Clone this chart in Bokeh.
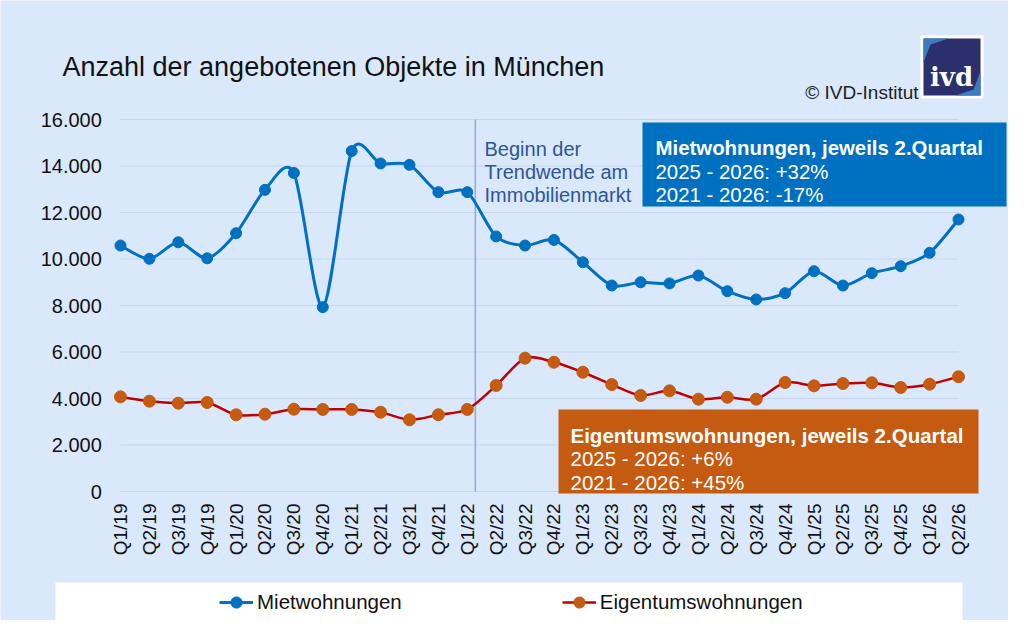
import math

from bokeh.embed import file_html
from bokeh.models import (BoxAnnotation, ColumnDataSource, Label, Legend,
                          LegendItem, PolyAnnotation)
from bokeh.plotting import figure
from bokeh.resources import INLINE

# Data
quarters = [
    "Q1/19", "Q2/19", "Q3/19", "Q4/19", "Q1/20", "Q2/20", "Q3/20", "Q4/20",
    "Q1/21", "Q2/21", "Q3/21", "Q4/21", "Q1/22", "Q2/22", "Q3/22", "Q4/22",
    "Q1/23", "Q2/23", "Q3/23", "Q4/23", "Q1/24", "Q2/24", "Q3/24", "Q4/24",
    "Q1/25", "Q2/25", "Q3/25", "Q4/25", "Q1/26", "Q2/26",
]
miet = [
    10580, 10010, 10720, 10030, 11110, 12975, 13700, 7930,
    14640, 14110, 14050, 12875, 12875, 10970, 10580, 10820,
    9860, 8860, 9000, 8950, 9290, 8615, 8260, 8530,
    9475, 8860, 9390, 9690, 10265, 11700,
]
eigentum = [
    4070, 3885, 3800, 3830, 3300, 3325, 3540, 3530,
    3530, 3410, 3085, 3300, 3530, 4560, 5735, 5560,
    5130, 4600, 4130, 4330, 3970, 4055, 3970, 4690,
    4545, 4645, 4675, 4475, 4615, 4935,
]
y_ticks = [0, 2000, 4000, 6000, 8000, 10000, 12000, 14000, 16000]
y_tick_labels = ["0", "2.000", "4.000", "6.000", "8.000", "10.000", "12.000", "14.000", "16.000"]
trend_start = 12.28

BG = "#DAE8FC"
FONT = "Liberation Sans"
BLUE = "#0070C0"
ORANGE = "#C55A11"
RED = "#C00000"

W, H = 1008, 620
# plot area: first category at x=120, last at x=958; value 0 at y=491, 16000 at y=119
X0, X1, Y0, Y1 = 120, 958, 491, 119
sx = (X1 - X0) / (len(quarters) - 1)
sy = (Y0 - Y1) / y_ticks[-1]
TENSION = 1 / 7


def smooth(ys):
    # Excel-like smoothed line as cubic bezier segments
    n = len(ys)
    seg = dict(x0=[], y0=[], x1=[], y1=[], cx0=[], cy0=[], cx1=[], cy1=[])
    for i in range(n - 1):
        a, d = max(i - 1, 0), min(i + 2, n - 1)
        seg["x0"].append(i)
        seg["y0"].append(ys[i])
        seg["x1"].append(i + 1)
        seg["y1"].append(ys[i + 1])
        seg["cx0"].append(i + (i + 1 - a) * TENSION)
        seg["cy0"].append(ys[i] + (ys[i + 1] - ys[a]) * TENSION)
        seg["cx1"].append(i + 1 - (d - i) * TENSION)
        seg["cy1"].append(ys[i + 1] - (ys[d] - ys[i]) * TENSION)
    return ColumnDataSource(seg)


xs = list(range(len(quarters)))

p = figure(
    width=W, height=H,
    x_range=(-X0 / sx, len(quarters) - 1 + (W - X1) / sx),
    y_range=(-(H - Y0) / sy, y_ticks[-1] + Y1 / sy),
    output_backend="svg", toolbar_location=None, tools="",
    min_border=0,
)
p.title.visible = False
p.background_fill_color = BG
p.border_fill_color = BG
p.outline_line_color = None
p.grid.visible = False

# axes drawn inside the canvas at fixed positions
p.xaxis.fixed_location = 0
p.xaxis.ticker = xs
p.xaxis.major_label_overrides = {i: q for i, q in enumerate(quarters)}
p.xaxis.major_label_orientation = math.pi / 2
p.xaxis.major_label_standoff = 12
p.xaxis.major_label_text_font = FONT
p.xaxis.major_label_text_font_size = "19px"
p.xaxis.major_label_text_color = "#111111"

p.yaxis.fixed_location = -0.3
p.yaxis.ticker = y_ticks
p.yaxis.major_label_overrides = {t: s for t, s in zip(y_ticks, y_tick_labels)}
p.yaxis.major_label_standoff = 10
p.yaxis.major_label_text_font = FONT
p.yaxis.major_label_text_font_size = "20px"
p.yaxis.major_label_text_color = "#111111"

for ax in (p.xaxis, p.yaxis):
    ax.axis_line_color = None
    ax.major_tick_line_color = None
    ax.minor_tick_line_color = None
    ax.major_tick_out = 0
    ax.major_tick_in = 0

# gridlines only across the category span
p.segment(x0=0, x1=xs[-1], y0=y_ticks, y1=y_ticks, line_color="#C6D5EC", line_width=1)
p.segment(x0=trend_start, x1=trend_start, y0=0, y1=y_ticks[-1],
          line_color="#8FAADC", line_width=1.5)

m_line = p.bezier(x0="x0", y0="y0", x1="x1", y1="y1", cx0="cx0", cy0="cy0",
                  cx1="cx1", cy1="cy1", source=smooth(miet),
                  line_color=BLUE, line_width=3)
m_dots = p.scatter(xs, miet, size=11, fill_color=BLUE, line_color=BLUE)

e_line = p.bezier(x0="x0", y0="y0", x1="x1", y1="y1", cx0="cx0", cy0="cy0",
                  cx1="cx1", cy1="cy1", source=smooth(eigentum),
                  line_color=RED, line_width=2.5)
e_dots = p.scatter(xs, eigentum, size=12, fill_color=ORANGE, line_color=ORANGE)


# helpers take positions in picture pixels (top-left origin)
def px(x):
    return x


def py(y):
    return H - y


def box(l, r, t, b, color):
    p.add_layout(BoxAnnotation(left=px(l), right=px(r), top=py(t), bottom=py(b),
                               left_units="screen", right_units="screen",
                               bottom_units="screen", top_units="screen",
                               fill_color=color, fill_alpha=1, line_color=None,
                               level="overlay"))


def text(x, y, s, size="20px", color="#111111", style="normal", align="left",
         font=FONT):
    p.add_layout(Label(x=px(x), y=py(y), x_units="screen", y_units="screen", text=s,
                       text_font=font, text_font_size=size, text_color=color,
                       text_font_style=style, text_align=align,
                       text_baseline="alphabetic", level="overlay"))


def poly(xx, yy, color):
    p.add_layout(PolyAnnotation(xs=[px(v) for v in xx], ys=[py(v) for v in yy],
                                xs_units="screen", ys_units="screen",
                                fill_color=color, fill_alpha=1, line_color=None,
                                level="overlay"))


# Title, copyright and logo
text(62, 66, "Anzahl der angebotenen Objekte in München", size="27px")
text(918, 92, "© IVD-Institut", size="19px", color="#222222", align="right")
box(920, 983, 35, 98, "white")
box(923, 980, 38, 95, "#2B2F6B")
poly([923, 948, 930, 923], [38, 38, 44, 62], "#3D7CC0")
poly([980, 980, 973, 955], [95, 71, 89, 95], "#3D7CC0")
text(951, 76, "ivd", size="26px", color="white", style="bold", align="center",
     font="DejaVu Serif")

# Trend note
text(484, 148, "Beginn der", color="#2F5597")
text(484, 171, "Trendwende am", color="#2F5597")
text(484, 194, "Immobilienmarkt", color="#2F5597")

# Blue info box
box(642, 1006, 122, 206, BLUE)
text(655, 147, "Mietwohnungen, jeweils 2.Quartal", size="20.4px", color="white", style="bold")
text(655, 171, "2025 - 2026: +32%", size="20.4px", color="white")
text(655, 194, "2021 - 2026: -17%", size="20.4px", color="white")

# Orange info box
box(558, 978, 409, 493, ORANGE)
text(570, 435, "Eigentumswohnungen, jeweils 2.Quartal", size="20.5px", color="white", style="bold")
text(570, 458, "2025 - 2026: +6%", size="20.5px", color="white")
text(570, 482, "2021 - 2026: +45%", size="20.5px", color="white")

# Legend
box(55, 962, 582, 620, "white")
legend = Legend(
    items=[LegendItem(label="Mietwohnungen", renderers=[m_line, m_dots]),
           LegendItem(label="Eigentumswohnungen", renderers=[e_line, e_dots])],
    orientation="horizontal", location=(px(219), py(602) - 14),
    background_fill_alpha=0, border_line_color=None,
    padding=0, margin=0, spacing=160,
    glyph_width=34, glyph_height=28, label_standoff=4,
    label_text_font=FONT, label_text_font_size="20.5px",
    label_text_color="#111111",
)
p.add_layout(legend)

open("out.html", "w").write(file_html(p, INLINE))
